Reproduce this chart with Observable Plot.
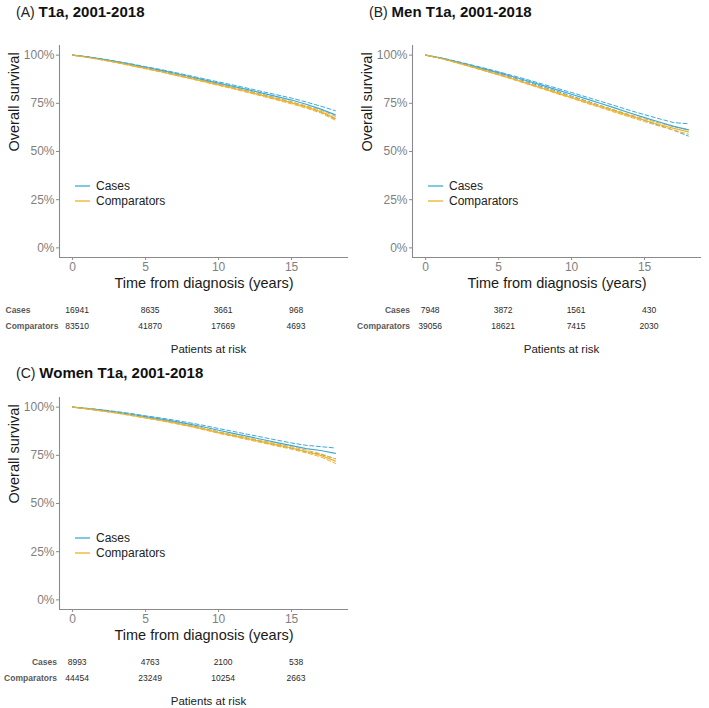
<!DOCTYPE html>
<html>
<head>
<meta charset="utf-8">
<script src="https://cdn.jsdelivr.net/npm/d3@7"></script>
<script src="https://cdn.jsdelivr.net/npm/@observablehq/plot@0.6"></script>
<style>
  body { margin: 0; background: #fff; font-family: "Liberation Sans", Arial, sans-serif; }
  #root { position: relative; width: 709px; height: 708px; overflow: hidden; background: #fff; }
  .block { position: absolute; width: 356px; height: 356px; }
  .block svg.plotsvg { max-width: none !important; }
  .title { position: absolute; white-space: nowrap; color: #111; line-height: 18px; }
  .title .tag { font-size: 14px; color: #222; }
  .title b { font-size: 15px; }
  .legend { position: absolute; font-size: 12px; color: #222; }
  .legend .row { display: flex; align-items: center; height: 15px; }
  .legend .row svg { margin-right: 6px; }
</style>
</head>
<body>
<div id="root"></div>
<script>
// Yearly follow-up grid (years since diagnosis)
const years = [0, 1, 2, 3, 4, 5, 6, 7, 8, 9, 10, 11, 12, 13, 14, 15, 16, 17, 18];
const groups = ["Cases", "Comparators"];
const groupColors = ["#3DA9D8", "#F0B12A"];
const yTicks = [0, 0.25, 0.5, 0.75, 1];
const xTicks = [0, 5, 10, 15];
const riskTimes = [0, 5, 10, 15];

// (A) T1a, all patients — Kaplan–Meier estimate with 95% CI
const allCasesSurv = [1, .991, .979, .966, .952, .937, .922, .906, .889, .872, .855, .838, .821, .803, .785, .767, .745, .720, .690];
const allCasesLow  = [1, .990, .977, .964, .949, .934, .918, .902, .884, .867, .849, .831, .814, .795, .776, .757, .733, .705, .668];
const allCasesHigh = [1, .992, .981, .968, .955, .940, .926, .910, .894, .877, .861, .845, .828, .811, .794, .777, .757, .735, .712];
const allCompSurv  = [1, .989, .976, .962, .947, .931, .915, .898, .881, .864, .846, .828, .810, .791, .772, .752, .731, .707, .672];
const allCompLow   = [1, .988, .975, .961, .945, .929, .913, .896, .879, .861, .843, .825, .806, .787, .767, .747, .725, .700, .662];
const allCompHigh  = [1, .990, .977, .963, .949, .933, .917, .900, .883, .867, .849, .831, .814, .795, .777, .757, .737, .714, .682];
const allRiskCases = [16941, 8635, 3661, 968];
const allRiskComp  = [83510, 41870, 17669, 4693];

// (B) Men
const menCasesSurv = [1, .986, .968, .949, .929, .909, .888, .866, .843, .820, .797, .773, .749, .725, .700, .676, .653, .630, .612];
const menCasesLow  = [1, .985, .966, .946, .925, .904, .883, .860, .836, .812, .788, .763, .738, .713, .687, .661, .636, .610, .580];
const menCasesHigh = [1, .987, .970, .952, .933, .914, .893, .872, .850, .828, .806, .783, .760, .737, .713, .691, .670, .650, .644];
const menCompSurv  = [1, .984, .964, .943, .921, .899, .876, .852, .828, .804, .780, .756, .732, .708, .685, .662, .640, .620, .602];
const menCompLow   = [1, .983, .963, .941, .919, .897, .873, .849, .825, .800, .776, .751, .727, .702, .679, .655, .632, .611, .590];
const menCompHigh  = [1, .985, .965, .945, .923, .901, .879, .855, .831, .808, .784, .761, .737, .714, .691, .669, .648, .629, .614];
const menRiskCases = [7948, 3872, 1561, 430];
const menRiskComp  = [39056, 18621, 7415, 2030];

// (C) Women
const womenCasesSurv = [1, .993, .984, .974, .963, .951, .939, .926, .912, .897, .880, .864, .848, .832, .816, .800, .785, .775, .760];
const womenCasesLow  = [1, .992, .982, .971, .959, .947, .934, .920, .905, .889, .871, .854, .837, .820, .803, .786, .768, .755, .732];
const womenCasesHigh = [1, .994, .986, .977, .967, .955, .944, .932, .919, .905, .889, .874, .859, .844, .829, .814, .802, .795, .788];
const womenCompSurv  = [1, .991, .981, .970, .958, .945, .932, .918, .903, .886, .868, .852, .836, .820, .804, .788, .770, .750, .720];
const womenCompLow   = [1, .990, .980, .969, .956, .943, .930, .915, .900, .883, .864, .848, .831, .815, .798, .782, .763, .742, .708];
const womenCompHigh  = [1, .992, .982, .971, .960, .947, .934, .921, .906, .889, .872, .856, .841, .825, .810, .794, .777, .758, .732];
const womenRiskCases = [8993, 4763, 2100, 538];
const womenRiskComp  = [44454, 23249, 10254, 2663];

const panels = [
  { tag: "(A)", title: "T1a, 2001-2018", left: 0, top: 0, titleTop: 3, labelAlign: "start",
    cases: [allCasesSurv, allCasesLow, allCasesHigh], comp: [allCompSurv, allCompLow, allCompHigh],
    risk: [allRiskCases, allRiskComp] },
  { tag: "(B)", title: "Men T1a, 2001-2018", left: 353, top: 0, titleTop: 3, labelAlign: "end",
    cases: [menCasesSurv, menCasesLow, menCasesHigh], comp: [menCompSurv, menCompLow, menCompHigh],
    risk: [menRiskCases, menRiskComp] },
  { tag: "(C)", title: "Women T1a, 2001-2018", left: 0, top: 352, titleTop: 12, labelAlign: "end",
    cases: [womenCasesSurv, womenCasesLow, womenCasesHigh], comp: [womenCompSurv, womenCompLow, womenCompHigh],
    risk: [womenRiskCases, womenRiskComp] }
];

const font = `"Liberation Sans", Arial, sans-serif`;
const xDomain = [-0.9, 18.9];
const yDomain = [-0.05, 1.05];
const axisGrey = "#8a8a8a";
const root = d3.select("#root");

for (const p of panels) {
  const block = root.append("div").attr("class", "block")
    .style("left", p.left + "px").style("top", p.top + "px");

  // Panel title
  const t = block.append("div").attr("class", "title")
    .style("left", "16px").style("top", p.titleTop + "px");
  t.append("span").attr("class", "tag").text(p.tag + " ");
  t.append("b").text(p.title);

  // Long-format tables for the curves and their confidence bands
  const curves = [];
  const bands = [];
  [p.cases, p.comp].forEach(([surv, low, high], gi) => {
    const g = groups[gi];
    years.forEach((yr, i) => {
      curves.push({ t: yr, s: surv[i], group: g });
      bands.push({ t: yr, v: low[i], group: g, key: g + "-low" });
      bands.push({ t: yr, v: high[i], group: g, key: g + "-high" });
    });
  });

  const km = Plot.plot({
    width: 354, height: 296,
    marginLeft: 59, marginRight: 6, marginTop: 45, marginBottom: 39,
    style: { fontFamily: font, color: "#7f7f7f", background: "transparent", overflow: "visible" },
    x: { domain: xDomain },
    y: { domain: yDomain },
    color: { domain: groups, range: groupColors },
    marks: [
      Plot.ruleX([xDomain[0]], { stroke: axisGrey, strokeWidth: 1.1 }),
      Plot.ruleY([yDomain[0]], { stroke: axisGrey, strokeWidth: 1.1 }),
      Plot.axisX({ ticks: xTicks, tickSize: 3, tickPadding: 2, fontSize: 12, stroke: axisGrey, fill: "#7f7f7f", label: null }),
      Plot.axisY({ ticks: yTicks, tickSize: 3, tickPadding: 2, fontSize: 12, stroke: axisGrey, fill: "#7f7f7f",
                   tickFormat: d3.format(".0%"), label: null }),
      Plot.line(bands, { x: "t", y: "v", z: "key", stroke: "group", strokeWidth: 1, strokeDasharray: "4,2.5" }),
      Plot.line(curves, { x: "t", y: "s", z: "group", stroke: "group", strokeWidth: 1.2 }),
      Plot.text(["Time from diagnosis (years)"], { frameAnchor: "bottom", lineAnchor: "middle", dy: 26,
                fontSize: 14.5, fill: "#1a1a1a" }),
      Plot.text(["Overall survival"], { frameAnchor: "left", rotate: -90, dx: -45,
                fontSize: 14.5, fill: "#1a1a1a" })
    ]
  });
  d3.select(km).classed("plotsvg", true).style("position", "absolute").style("left", "0px").style("top", "0px")
    .style("width", "354px").style("height", "296px");
  block.node().appendChild(km);

  // Legend inside the plotting area
  const legend = block.append("div").attr("class", "legend")
    .style("left", "75px").style("top", "178px");
  groups.forEach((g, i) => {
    const row = legend.append("div").attr("class", "row");
    row.append("svg").attr("width", 15).attr("height", 4)
      .append("line").attr("x1", 0).attr("x2", 15).attr("y1", 2).attr("y2", 2)
      .attr("stroke", groupColors[i]).attr("stroke-width", 1.3);
    row.append("span").text(g);
  });

  // Number-at-risk table
  const riskRows = [];
  p.risk.forEach((vals, gi) => riskTimes.forEach((tt, i) => riskRows.push({ t: tt, n: vals[i], group: groups[gi] })));
  const labelDx = p.labelAlign === "start" ? -58.5 : -7;
  const table = Plot.plot({
    width: 358, height: 52,
    marginLeft: 63.5, marginRight: 5.5, marginTop: 0, marginBottom: 0,
    style: { fontFamily: font, background: "transparent", overflow: "visible" },
    x: { domain: xDomain, axis: null },
    y: { type: "point", domain: groups, range: [10, 26], padding: 0, axis: null },
    marks: [
      Plot.text(riskRows, { x: "t", y: "group", text: d => String(d.n), fontSize: 8.5, fill: "#2a2a2a" }),
      Plot.text(groups, { y: d => d, text: d => d, frameAnchor: "left", textAnchor: p.labelAlign, dx: labelDx,
                fontSize: 8.5, fontWeight: "bold", fill: "#5a5a5a" }),
      Plot.text(["Patients at risk"], { frameAnchor: "bottom", lineAnchor: "bottom", fontSize: 11.5, fill: "#222" })
    ]
  });
  d3.select(table).classed("plotsvg", true).style("position", "absolute").style("left", "0px").style("top", "300px")
    .style("width", "358px").style("height", "52px");
  block.node().appendChild(table);
}
</script>
</body>
</html>
